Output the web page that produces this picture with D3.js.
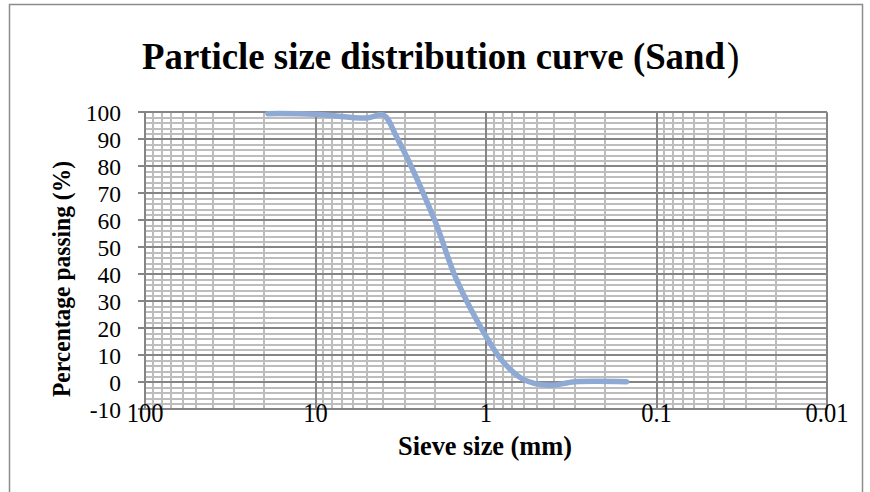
<!DOCTYPE html>
<html><head><meta charset="utf-8">
<script src="https://cdn.jsdelivr.net/npm/d3@7"></script>
<style>html,body{margin:0;padding:0;background:#fff;}svg{display:block;}</style>
</head><body>
<svg id="chart" width="870" height="492"></svg>
<script>
// ---- data ----
const sieveSizes = [19, 10, 5, 4, 3.35, 2, 1.5, 1, 0.8, 0.6, 0.425, 0.3, 0.15];
const percentPassing = [99.5, 99.3, 97.9, 99.0, 91.0, 60, 38.5, 17, 7.8, 1.0, -1.1, 0.2, 0.2];
const xTickValues = [100, 10, 1, 0.1, 0.01];
const xTickLabels = ["100", "10", "1", "0.1", "0.01"];
const yTickValues = [-10, 0, 10, 20, 30, 40, 50, 60, 70, 80, 90, 100];
const yTickLabels = ["-10", "0", "10", "20", "30", "40", "50", "60", "70", "80", "90", "100"];
const titleMain = "Particle size distribution curve (Sand";
const titleEnd = ")";
const xTitle = "Sieve size (mm)";
const yTitle = "Percentage passing (%)";

const FONT = "'Liberation Serif','Times New Roman',serif";
const svg = d3.select("#chart");
const x = d3.scaleLog().domain([100, 0.01]).range([145, 827]);
const y = d3.scaleLinear().domain([-10, 100]).range([409.3, 112.3]);

// outer frame
svg.append("rect").attr("x", 9.5).attr("y", 4.5).attr("width", 853).attr("height", 500)
  .attr("fill", "none").attr("stroke", "#8c8c8c").attr("stroke-width", 1.5);

const g = svg.append("g");
const MINOR = "#bdbdbd", MAJOR = "#858585";
// minor horizontal grid
const yMinor = d3.range(-10, 100.1, 2).filter(v => v % 10 !== 0);
g.selectAll(".hmin").data(yMinor).join("line")
  .attr("x1", x(100)).attr("x2", x(0.01))
  .attr("y1", d => Math.round(y(d))).attr("y2", d => Math.round(y(d)))
  .attr("stroke", MINOR).attr("stroke-width", 2);
// minor vertical grid
const xMinor = [];
[0.01, 0.1, 1, 10].forEach(dec => { for (let k = 2; k <= 9; k++) xMinor.push(k * dec); });
g.selectAll(".vmin").data(xMinor).join("line")
  .attr("x1", d => Math.round(x(d))).attr("x2", d => Math.round(x(d)))
  .attr("y1", y(100)).attr("y2", y(-10))
  .attr("stroke", MINOR).attr("stroke-width", 2);
// major horizontal grid
g.selectAll(".hmaj").data(yTickValues).join("line")
  .attr("x1", x(100) - 7).attr("x2", x(0.01))
  .attr("y1", d => Math.round(y(d))).attr("y2", d => Math.round(y(d)))
  .attr("stroke", MAJOR).attr("stroke-width", 2);
// major vertical grid
g.selectAll(".vmaj").data(xTickValues).join("line")
  .attr("x1", d => Math.round(x(d))).attr("x2", d => Math.round(x(d)))
  .attr("y1", y(100)).attr("y2", y(-10))
  .attr("stroke", MAJOR).attr("stroke-width", 2);

// y tick labels
g.selectAll(".ylab").data(yTickValues).join("text")
  .attr("x", 121).attr("y", d => y(d) + 8.3)
  .attr("text-anchor", "end")
  .attr("font-family", FONT).attr("font-size", 23.5)
  .text((d, i) => yTickLabels[i]);
// x tick labels
g.selectAll(".xlab").data(xTickValues).join("text")
  .attr("transform", d => `translate(${x(d)},421.5) scale(1,1.08)`)
  .attr("text-anchor", "middle")
  .attr("font-family", FONT).attr("font-size", 24.5)
  .text((d, i) => xTickLabels[i]);

// curve
const line = d3.line().x(d => x(d[0])).y(d => y(d[1])).curve(d3.curveCatmullRom.alpha(0.5));
g.append("path").datum(sieveSizes.map((s, i) => [s, percentPassing[i]]))
  .attr("d", line).attr("fill", "none")
  .attr("stroke", "#8ea9d4").attr("stroke-width", 5.5)
  .attr("stroke-linecap", "round").attr("stroke-linejoin", "round");

// titles
svg.append("text").attr("transform", "translate(142,69) scale(1,1.08)")
  .attr("font-family", FONT).attr("font-weight", "bold").attr("font-size", 36)
  .attr("textLength", 583).attr("lengthAdjust", "spacingAndGlyphs")
  .text(titleMain);
svg.append("text").attr("transform", "translate(727,70) scale(1,1.08)")
  .attr("font-family", FONT).attr("font-size", 37)
  .text(titleEnd);

svg.append("text").attr("transform", "translate(485,455) scale(1,1.06)")
  .attr("text-anchor", "middle")
  .attr("font-family", FONT).attr("font-weight", "bold").attr("font-size", 26)
  .attr("textLength", 174).attr("lengthAdjust", "spacingAndGlyphs")
  .text(xTitle);

svg.append("text")
  .attr("transform", "translate(69.5,279) rotate(-90)")
  .attr("text-anchor", "middle")
  .attr("font-family", FONT).attr("font-weight", "bold").attr("font-size", 26)
  .attr("textLength", 236).attr("lengthAdjust", "spacingAndGlyphs")
  .text(yTitle);
</script>
</body></html>
